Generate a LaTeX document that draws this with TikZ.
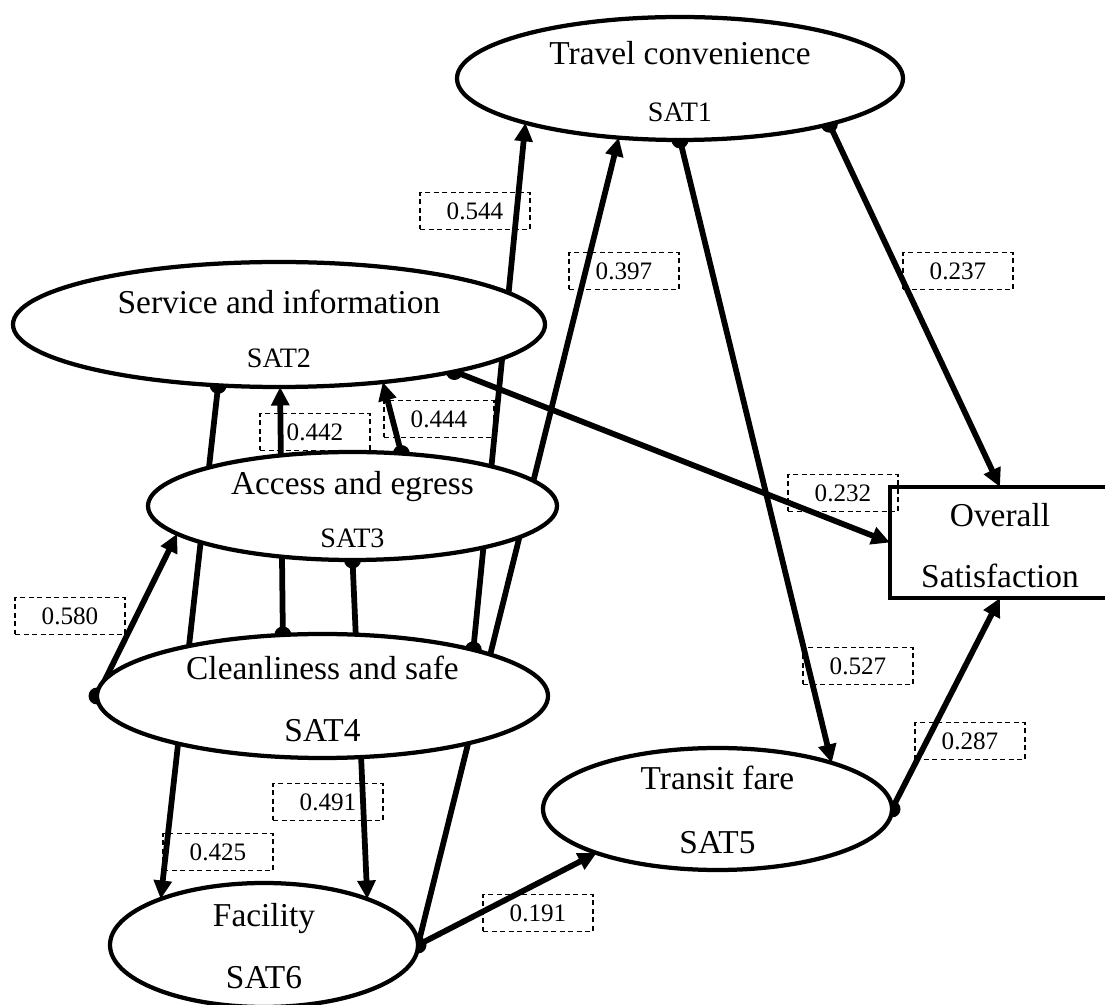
\documentclass[tikz,border=0pt]{standalone}
\usepackage{fontspec}
\setmainfont{Liberation Serif}
\usetikzlibrary{shapes.geometric,arrows.meta,backgrounds}

\begin{document}
\begin{tikzpicture}[
	factor/.style={ellipse, draw, fill=white, line width=0.085cm, inner sep=0, outer sep=0},
	titletext/.style={font=\fontsize{19}{23}\selectfont, inner sep=0, text depth=0pt},
	codetext/.style={font=\fontsize{16}{19}\selectfont, inner sep=0, text depth=0pt},
	coef/.style={draw, dash pattern=on 0.1cm off 0.07cm, line width=0.7pt, minimum width=2.2cm, minimum height=0.74cm, inner sep=0, font=\fontsize{14.3}{17}\selectfont},
	link/.style={line width=0.115cm, -{Triangle[length=0.37cm,width=0.35cm]}},
]
	\useasboundingbox (0,0) rectangle (22.1,-20.1);

	% satisfaction factors
	\node[factor, minimum width=8.92cm, minimum height=2.46cm] (sat1) at (13.60,-1.57) {};
	\node[factor, minimum width=10.64cm, minimum height=2.5cm] (sat2) at (5.58,-6.49) {};
	\node[factor, minimum width=8.18cm, minimum height=2.16cm] (sat3) at (7.05,-10.12) {};
	\node[factor, minimum width=9.02cm, minimum height=2.48cm] (sat4) at (6.45,-13.92) {};
	\node[factor, minimum width=6.98cm, minimum height=2.44cm] (sat5) at (14.35,-16.18) {};
	\node[factor, minimum width=6.16cm, minimum height=2.48cm] (sat6) at (5.28,-18.90) {};
	\node[draw, fill=white, line width=0.085cm, outer sep=0, minimum width=4.4cm, minimum height=2.22cm] (overall) at (20.0,-10.85) {};

	\node[titletext] (sat1-name) at ([yshift=0.51cm]sat1.center) {Travel convenience};
	\node[codetext] (sat1-code) at ([yshift=-0.67cm]sat1.center) {SAT1};
	\node[titletext] (sat2-name) at ([yshift=0.45cm]sat2.center) {Service and information};
	\node[codetext] (sat2-code) at ([yshift=-0.67cm]sat2.center) {SAT2};
	\node[titletext] (sat3-name) at ([yshift=0.46cm]sat3.center) {Access and egress};
	\node[codetext] (sat3-code) at ([yshift=-0.64cm]sat3.center) {SAT3};
	\node[titletext] (sat4-name) at ([yshift=0.56cm]sat4.center) {Cleanliness and safe};
	\node[titletext] (sat4-code) at ([yshift=-0.68cm]sat4.center) {SAT4};
	\node[titletext] (sat5-name) at ([yshift=0.62cm]sat5.center) {Transit fare};
	\node[titletext] (sat5-code) at ([yshift=-0.66cm]sat5.center) {SAT5};
	\node[titletext] (sat6-name) at ([yshift=0.60cm]sat6.center) {Facility};
	\node[titletext] (sat6-code) at ([yshift=-0.64cm]sat6.center) {SAT6};
	\node[titletext] (overall-top) at ([yshift=0.55cm]overall.center) {Overall};
	\node[titletext] (overall-bot) at ([yshift=-0.67cm]overall.center) {Satisfaction};

	% links, kept behind the ellipses
	\begin{scope}[on background layer]
		\draw[link] (sat4.17) -- (sat1.-164);
		\draw[link] (sat6.east) -- (sat1.-136);
		\draw[link] (sat1.-90) -- (sat5.22);
		\draw[link] (sat1.-17) -- (overall.north);
		\draw[link] (sat2.-15) -- (overall.west);
		\draw[link] (sat5.east) -- (overall.south);
		\draw[link] (sat6.east) -- (sat5.-160);
		\draw[link] (sat2.-135) -- (sat6.156);
		\draw[link] (sat3.-90) -- (sat6.24);
		\draw[link] (sat4.123) -- (sat2.-89);
		\draw[link] (sat3.47) -- (sat2.-29);
		\draw[link] (sat4.west) -- (sat3.-171);
		\fill (sat4.17) circle (0.17) (sat6.east) circle (0.17) (sat1.-90) circle (0.17)
			(sat1.-17) circle (0.17) (sat2.-15) circle (0.17) (sat5.east) circle (0.17)
			(sat2.-135) circle (0.17) (sat3.-90) circle (0.17) (sat4.123) circle (0.17)
			(sat3.47) circle (0.17) (sat4.west) circle (0.17);
	\end{scope}

	% path coefficients
	\node[coef] (c544) at (9.50,-4.22) {0.544};
	\node[coef] (c397) at (12.48,-5.42) {0.397};
	\node[coef] (c237) at (19.16,-5.42) {0.237};
	\node[coef] (c442) at (6.30,-8.64) {0.442};
	\node[coef] (c444) at (8.78,-8.38) {0.444};
	\node[coef] (c232) at (16.86,-9.86) {0.232};
	\node[coef] (c580) at (1.40,-12.32) {0.580};
	\node[coef] (c527) at (17.16,-13.32) {0.527};
	\node[coef] (c287) at (19.40,-14.82) {0.287};
	\node[coef] (c491) at (6.56,-16.04) {0.491};
	\node[coef] (c425) at (4.36,-17.04) {0.425};
	\node[coef] (c191) at (10.76,-18.26) {0.191};
\end{tikzpicture}
\end{document}
